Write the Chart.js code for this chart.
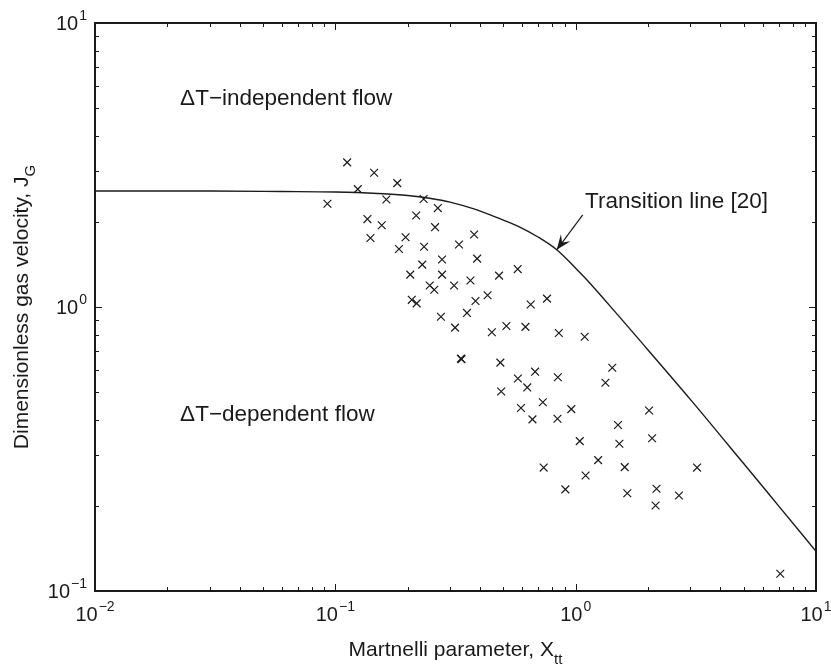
<!DOCTYPE html>
<html>
<head>
<meta charset="utf-8">
<script src="https://cdn.jsdelivr.net/npm/chart.js@4/dist/chart.umd.min.js"></script>
<style>
  html, body { margin: 0; padding: 0; background: #fff; }
  canvas { display: block; }
</style>
</head>
<body>
<canvas id="jg_chart" width="831" height="670"></canvas>
<script>
// measured points, Martinelli parameter vs dimensionless gas velocity
const xtt = [0.112, 0.145, 0.124, 0.181, 0.0927, 0.163, 0.233, 0.267, 0.217, 0.136,
  0.156, 0.260, 0.378, 0.140, 0.196, 0.327, 0.234, 0.184, 0.389, 0.278,
  0.230, 0.205, 0.278, 0.365, 0.312, 0.247, 0.258, 0.383, 0.208, 0.218,
  0.353, 0.275, 0.315, 0.480, 0.574, 0.430, 0.650, 0.760, 0.448, 0.515,
  0.618, 0.851, 1.09, 0.333, 0.335, 0.486, 0.678, 0.575, 0.629, 0.843,
  1.42, 1.33, 0.490, 0.592, 0.730, 0.661, 0.840, 0.959, 2.02, 1.50,
  2.08, 1.04, 1.52, 1.24, 0.736, 1.60, 3.20, 1.10, 0.906, 1.64,
  2.17, 2.69, 2.15, 7.1];
const jg = [3.23, 2.97, 2.60, 2.73, 2.31, 2.39, 2.40, 2.23, 2.10, 2.04,
  1.94, 1.91, 1.80, 1.75, 1.76, 1.66, 1.63, 1.60, 1.48, 1.47,
  1.41, 1.30, 1.30, 1.24, 1.19, 1.19, 1.15, 1.05, 1.06, 1.03,
  0.953, 0.924, 0.846, 1.29, 1.36, 1.10, 1.02, 1.07, 0.815, 0.857,
  0.851, 0.810, 0.786, 0.658, 0.655, 0.637, 0.592, 0.560, 0.521, 0.566,
  0.611, 0.541, 0.504, 0.441, 0.462, 0.402, 0.404, 0.437, 0.432, 0.384,
  0.345, 0.337, 0.330, 0.289, 0.272, 0.273, 0.272, 0.255, 0.228, 0.221,
  0.229, 0.217, 0.200, 0.115];

// transition line [20]
const lineX = [0.01, 0.03, 0.06, 0.1, 0.15, 0.2, 0.25, 0.3, 0.38, 0.48, 0.58, 0.7, 0.834, 1.0, 1.11, 1.5, 2, 3, 5, 7, 10];
const lineY = [2.56, 2.56, 2.55, 2.54, 2.51, 2.47, 2.41, 2.34, 2.21, 2.05, 1.92, 1.76, 1.59, 1.37, 1.25, 0.936, 0.706, 0.473, 0.281, 0.199, 0.138];

const xExp = [-2, -1, 0, 1];
const yExp = [-1, 0, 1];

const FONT = '"Liberation Sans", Arial, Helvetica, sans-serif';
const INK = '#1a1a1a';

function powLabel(c, exp, x, y, align) {
  c.font = '20px ' + FONT;
  const bw = c.measureText('10').width;
  c.font = '14px ' + FONT;
  const sup = exp < 0 ? '\u2212' + (-exp) : String(exp);
  const sw = c.measureText(sup).width;
  const total = bw + 1 + sw;
  const x0 = align === 'center' ? x - total / 2 : x - total;
  c.textAlign = 'left';
  c.textBaseline = 'alphabetic';
  c.font = '20px ' + FONT;
  c.fillText('10', x0, y + 7);
  c.font = '14px ' + FONT;
  c.fillText(sup, x0 + bw + 1, y - 3);
}

function arrow(c, x1, y1, x2, y2) {
  c.beginPath();
  c.moveTo(x1, y1);
  c.lineTo(x2, y2);
  c.stroke();
  const a = Math.atan2(y2 - y1, x2 - x1);
  const len = 15, half = 6;
  const bx = x2 - Math.cos(a) * len, by = y2 - Math.sin(a) * len;
  const nx = x2 - Math.cos(a) * len * 0.6, ny = y2 - Math.sin(a) * len * 0.6;
  c.beginPath();
  c.moveTo(x2, y2);
  c.lineTo(bx + Math.sin(a) * half, by - Math.cos(a) * half);
  c.lineTo(nx, ny);
  c.lineTo(bx - Math.sin(a) * half, by + Math.cos(a) * half);
  c.closePath();
  c.fill();
}

const frame = {
  id: 'frame',
  afterDraw(chart) {
    const c = chart.ctx;
    const xs = chart.scales.x, ys = chart.scales.y;
    const a = chart.chartArea;
    c.save();
    c.strokeStyle = INK;
    c.fillStyle = INK;

    // ticks on all four sides, pointing inward
    c.lineWidth = 1;
    c.beginPath();
    for (let k = -2; k < 1; k++) {
      for (let m = 1; m < 10; m++) {
        const px = Math.round(xs.getPixelForValue(m * Math.pow(10, k))) + 0.5;
        const L = m === 1 ? 7 : 4;
        c.moveTo(px, a.bottom); c.lineTo(px, a.bottom - L);
        c.moveTo(px, a.top); c.lineTo(px, a.top + L);
      }
    }
    for (let k = -1; k < 1; k++) {
      for (let m = 1; m < 10; m++) {
        const py = Math.round(ys.getPixelForValue(m * Math.pow(10, k))) + 0.5;
        const L = m === 1 ? 7 : 4;
        c.moveTo(a.left, py); c.lineTo(a.left + L, py);
        c.moveTo(a.right, py); c.lineTo(a.right - L, py);
      }
    }
    c.stroke();

    c.lineWidth = 2;
    c.strokeRect(a.left, a.top, a.right - a.left, a.bottom - a.top);

    // tick labels
    xExp.forEach(e => powLabel(c, e, xs.getPixelForValue(Math.pow(10, e)), a.bottom + 23, 'center'));
    yExp.forEach(e => powLabel(c, e, a.left - 8, ys.getPixelForValue(Math.pow(10, e)), 'right'));

    // axis titles
    c.textBaseline = 'alphabetic';
    c.font = '21px ' + FONT;
    const xt = 'Martnelli parameter, X';
    const xtw = c.measureText(xt).width;
    c.font = '15px ' + FONT;
    const subw = c.measureText('tt').width;
    const xc = (a.left + a.right) / 2;
    const x0 = xc - (xtw + subw) / 2;
    c.textAlign = 'left';
    c.font = '21px ' + FONT;
    c.fillText(xt, x0, 656);
    c.font = '15px ' + FONT;
    c.fillText('tt', x0 + xtw, 664);

    c.save();
    c.translate(28, (a.top + a.bottom) / 2);
    c.rotate(-Math.PI / 2);
    c.font = '21px ' + FONT;
    const yt = 'Dimensionless gas velocity, J';
    const ytw = c.measureText(yt).width;
    c.font = '15px ' + FONT;
    const gw = c.measureText('G').width;
    const y0 = -(ytw + gw) / 2;
    c.font = '21px ' + FONT;
    c.fillText(yt, y0, 0);
    c.font = '15px ' + FONT;
    c.fillText('G', y0 + ytw, 7);
    c.restore();

    // annotations
    c.font = '22.5px ' + FONT;
    c.textBaseline = 'middle';
    c.fillText('\u0394T\u2212independent flow', xs.getPixelForValue(0.0226), ys.getPixelForValue(5.4));
    c.fillText('\u0394T\u2212dependent flow', xs.getPixelForValue(0.0226), ys.getPixelForValue(0.417));
    c.fillText('Transition line [20]', xs.getPixelForValue(1.094), ys.getPixelForValue(2.35));

    c.lineWidth = 1.2;
    arrow(c, xs.getPixelForValue(1.07), ys.getPixelForValue(2.11),
      xs.getPixelForValue(0.834), ys.getPixelForValue(1.59));
    c.restore();
  }
};

const ctx = document.getElementById('jg_chart');

new Chart(ctx, {
  type: 'scatter',
  data: {
    datasets: [{
      type: 'line',
      data: lineX.map((x, i) => ({ x: x, y: lineY[i] })),
      borderColor: INK,
      borderWidth: 1.4,
      pointRadius: 0,
      fill: false,
      cubicInterpolationMode: 'monotone'
    }, {
      data: xtt.map((x, i) => ({ x: x, y: jg[i] })),
      pointStyle: 'crossRot',
      pointRadius: 5.5,
      borderColor: INK,
      borderWidth: 1.2,
      backgroundColor: 'rgba(0,0,0,0)'
    }]
  },
  options: {
    responsive: false,
    animation: false,
    layout: { padding: { left: 95, right: 15, top: 23, bottom: 79 } },
    plugins: { legend: { display: false }, tooltip: { enabled: false } },
    scales: {
      x: {
        type: 'logarithmic', min: 0.01, max: 10,
        ticks: { display: false },
        grid: { display: false, drawTicks: false },
        border: { display: false }
      },
      y: {
        type: 'logarithmic', min: 0.1, max: 10,
        ticks: { display: false },
        grid: { display: false, drawTicks: false },
        border: { display: false }
      }
    }
  },
  plugins: [frame]
});
</script>
</body>
</html>
